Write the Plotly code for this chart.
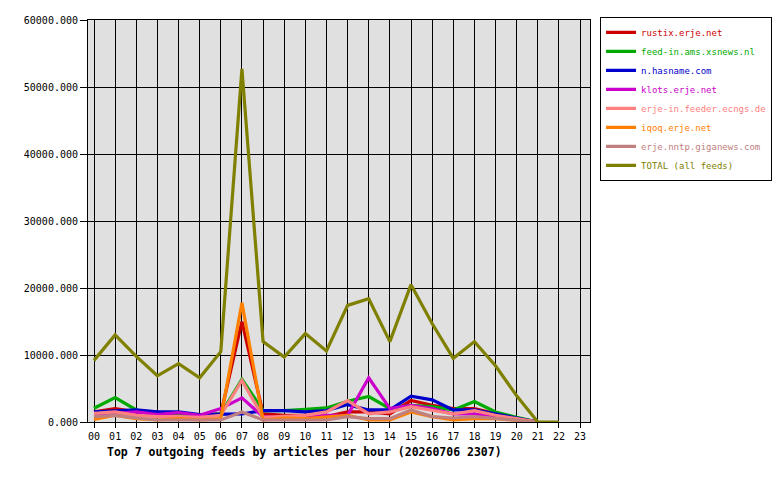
import plotly.graph_objects as go

hours = list(range(24))
hour_labels = [f"{h:02d}" for h in hours]

rustix = [1500, 2000, 1500, 1200, 1200, 1000, 1200, 15000, 1200, 1000, 1000, 800, 1500, 1500, 1200, 3200, 2500, 2000, 2000, 1200, 500, 0]
feedin = [2050, 3650, 1800, 1000, 1100, 1000, 1200, 6400, 1700, 1700, 1900, 2100, 3100, 3800, 2000, 2500, 2300, 1800, 3050, 1500, 700, 0]
hasname = [1500, 1700, 1800, 1500, 1500, 1100, 1200, 1200, 1700, 1700, 1500, 1700, 2600, 1800, 1800, 3850, 3300, 1800, 1800, 1200, 600, 0]
klots = [1000, 1300, 1500, 1100, 1400, 1000, 2000, 3600, 800, 600, 800, 1000, 1000, 6600, 2000, 2500, 2000, 1200, 1200, 800, 400, 0]
ecngs = [1300, 1500, 1000, 800, 800, 700, 1000, 6200, 700, 800, 1000, 1500, 3200, 1200, 1500, 2300, 1800, 1200, 1700, 1000, 500, 0]
iqoq = [400, 1000, 500, 300, 500, 300, 500, 17800, 300, 600, 500, 700, 1000, 300, 300, 1500, 800, 300, 500, 500, 300, 0]
giganews = [800, 1000, 600, 300, 300, 300, 300, 1500, 300, 300, 300, 300, 800, 500, 500, 1800, 800, 600, 800, 500, 200, 0]
total = [9200, 13000, 9800, 6900, 8700, 6600, 10500, 52700, 12000, 9700, 13200, 10600, 17400, 18400, 12000, 20500, 14700, 9500, 12000, 8400, 3900, 0, 0]

series = [
    ("rustix.erje.net", rustix, "#cc0000"),
    ("feed-in.ams.xsnews.nl", feedin, "#00aa00"),
    ("n.hasname.com", hasname, "#0000cc"),
    ("klots.erje.net", klots, "#cc00cc"),
    ("erje-in.feeder.ecngs.de", ecngs, "#ff8080"),
    ("iqoq.erje.net", iqoq, "#ff8000"),
    ("erje.nntp.giganews.com", giganews, "#c08080"),
    ("TOTAL (all feeds)", total, "#808000"),
]

FONT = "DejaVu Sans Mono"

fig = go.Figure()
for name, vals, col in series:
    fig.add_trace(go.Scatter(
        x=hours[:len(vals)], y=vals, mode="lines",
        name=f'<span style="color:{col}">{name}</span>',
        line=dict(color=col, width=3.2),
    ))

fig.update_layout(
    width=780, height=480,
    margin=dict(l=88, r=190, t=20, b=58, autoexpand=False),
    paper_bgcolor="white",
    plot_bgcolor="#e0e0e0",
    font=dict(family=FONT, size=10, color="black"),
    showlegend=True,
    legend=dict(
        x=1.02, y=1.008, xanchor="left", yanchor="top",
        bgcolor="white", bordercolor="black", borderwidth=1,
        font=dict(family=FONT, size=9),
        itemwidth=30, tracegroupgap=0,
    ),
    xaxis=dict(
        range=[-0.284, 23.47],
        tickmode="array", tickvals=hours, ticktext=hour_labels,
        showgrid=True, gridcolor="black", gridwidth=1,
        showline=True, linecolor="black", linewidth=1, mirror=True,
        ticks="outside", ticklen=5, tickcolor="black",
        zeroline=False,
    ),
    yaxis=dict(
        range=[0, 60000],
        tickmode="array", tickvals=[0, 10000, 20000, 30000, 40000, 50000, 60000],
        tickformat=".3f",
        showgrid=True, gridcolor="black", gridwidth=1,
        showline=True, linecolor="black", linewidth=1, mirror=True,
        ticks="outside", ticklen=7, tickcolor="black",
        zeroline=False,
    ),
    annotations=[dict(
        text="<b>Top 7 outgoing feeds by articles per hour (20260706 2307)</b>",
        xref="paper", yref="paper", x=(105 - 88) / 502, y=-(452 - 422) / 402,
        xanchor="left", yanchor="middle", showarrow=False,
        font=dict(family=FONT, size=11.5, color="black"),
    )],
)

fig.write_html("out.html")
